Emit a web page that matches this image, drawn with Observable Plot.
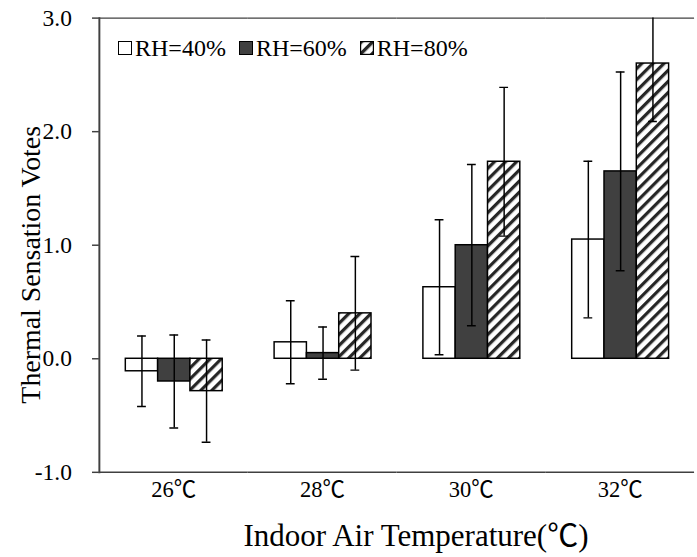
<!DOCTYPE html>
<html>
<head>
<meta charset="utf-8">
<script src="https://cdn.jsdelivr.net/npm/d3@7"></script>
<script src="https://cdn.jsdelivr.net/npm/@observablehq/plot@0.6"></script>
<style>
  body { margin: 0; overflow: hidden; background: #fff; }
  #chart { position: relative; width: 697px; height: 557px; overflow: hidden; font-family: "Liberation Serif", "Noto Sans CJK SC", serif; }
  #chart svg, #chart svg g, #chart svg text { font-family: "Liberation Serif", "Noto Sans CJK SC", serif !important; font-variant: normal !important; }
  .legend { position: absolute; left: 118px; top: 36px; display: flex; align-items: center; font-size: 24px; line-height: 24px; color: #000; }
  .legend .item { display: flex; align-items: center; margin-right: 13px; }
  .legend .sw { width: 12px; height: 12px; border: 1.2px solid #000; margin-right: 3px; }
  .xtitle { position: absolute; left: 416px; top: 520px; transform: translateX(-50%); font-size: 31px; line-height: 31px; white-space: nowrap; }
</style>
</head>
<body>
<div id="chart"></div>
<script>
const temps = ["26℃", "28℃", "30℃", "32℃"];
const groups = ["RH=40%", "RH=60%", "RH=80%"];
const mean40 = [-0.11, 0.145, 0.63, 1.05];
const mean60 = [-0.20, 0.05, 1.00, 1.65];
const mean80 = [-0.285, 0.40, 1.735, 2.60];
const sd40 = [0.31, 0.365, 0.595, 0.69];
const sd60 = [0.41, 0.23, 0.71, 0.875];
const sd80 = [0.45, 0.50, 0.655, 0.51];
const yTicks = [-1, 0, 1, 2, 3];

const means = [mean40, mean60, mean80];
const sds = [sd40, sd60, sd80];
const fills = ["white", "#404040", "url(#hatch)"];

const rows = temps.flatMap((t, i) => groups.map((g, j) => ({
  temp: t, rh: g, mean: means[j][i], sd: sds[j][i]
})));

const serif = "Liberation Serif, Noto Sans CJK SC, serif";

// error bar caps
const cap = {fx: "temp", x: "rh", stroke: "black", strokeWidth: 1.5, insetLeft: 12, insetRight: 12, clip: true};

let chart = Plot.plot({
  width: 712,
  height: 557,
  marginLeft: 99,
  marginRight: 2,
  marginTop: 18,
  marginBottom: 75,
  style: {fontFamily: serif, color: "black", background: "white", overflow: "visible"},
  fx: {domain: temps, padding: 0},
  x: {domain: groups, paddingInner: 0, paddingOuter: 0.745, axis: null},
  y: {domain: [-1, 3]},
  marks: [
    Plot.ruleY([-1, 3], {stroke: "#404040", strokeWidth: 1.5}),
    ...groups.map((g, j) => Plot.barY(rows.filter(d => d.rh === g), {
      fx: "temp", x: "rh", y: "mean", fill: fills[j], stroke: "black", strokeWidth: 1.5
    })),
    Plot.ruleX(rows, {fx: "temp", x: "rh", y1: d => d.mean - d.sd, y2: d => d.mean + d.sd,
      stroke: "black", strokeWidth: 1.5, clip: true}),
    Plot.tickY(rows, {...cap, y: d => d.mean - d.sd}),
    Plot.tickY(rows, {...cap, y: d => d.mean + d.sd}),
    Plot.axisY({facetAnchor: "left", ticks: yTicks, tickSize: 7, tickPadding: 21,
      tickFormat: d => d.toFixed(1), fontSize: 24, fontFamily: serif, label: null,
      stroke: "#404040", strokeWidth: 1.5}),
    Plot.axisFx({anchor: "bottom", tickSize: 0, tickPadding: 9, fontSize: 23, fontFamily: serif, label: null}),
    Plot.frame({anchor: "left", facetAnchor: "left", stroke: "#404040", strokeWidth: 2}),
    Plot.text(["Thermal Sensation Votes"], {facetAnchor: "left", frameAnchor: "left", rotate: -90,
      dx: -70, dy: 20, fontSize: 28.5, fontFamily: serif, textAnchor: "middle", lineAnchor: "middle"})
  ]
});

const defs = d3.select(chart).append("defs");
const pat = defs.append("pattern")
  .attr("id", "hatch")
  .attr("patternUnits", "userSpaceOnUse")
  .attr("width", 8)
  .attr("height", 8)
  .attr("patternTransform", "rotate(45)");
pat.append("rect").attr("width", 8).attr("height", 8).attr("fill", "white");
pat.append("rect").attr("width", 3.3).attr("height", 8).attr("fill", "#262626");

d3.select("#chart").append(() => chart);

// legend inside the plot area
const legend = d3.select("#chart").append("div").attr("class", "legend");
groups.forEach((g, j) => {
  const item = legend.append("div").attr("class", "item");
  if (j < 2) {
    item.append("div").attr("class", "sw").style("background", fills[j]);
  } else {
    item.append("svg").attr("width", 14).attr("height", 14).style("margin-right", "3px")
      .append("rect").attr("x", 0.6).attr("y", 0.6).attr("width", 12.8).attr("height", 12.8)
      .attr("fill", "url(#hatch)").attr("stroke", "black").attr("stroke-width", 1.2);
  }
  item.append("span").text(g);
});

d3.select("#chart").append("div").attr("class", "xtitle").text("Indoor Air Temperature(℃)");
</script>
</body>
</html>
